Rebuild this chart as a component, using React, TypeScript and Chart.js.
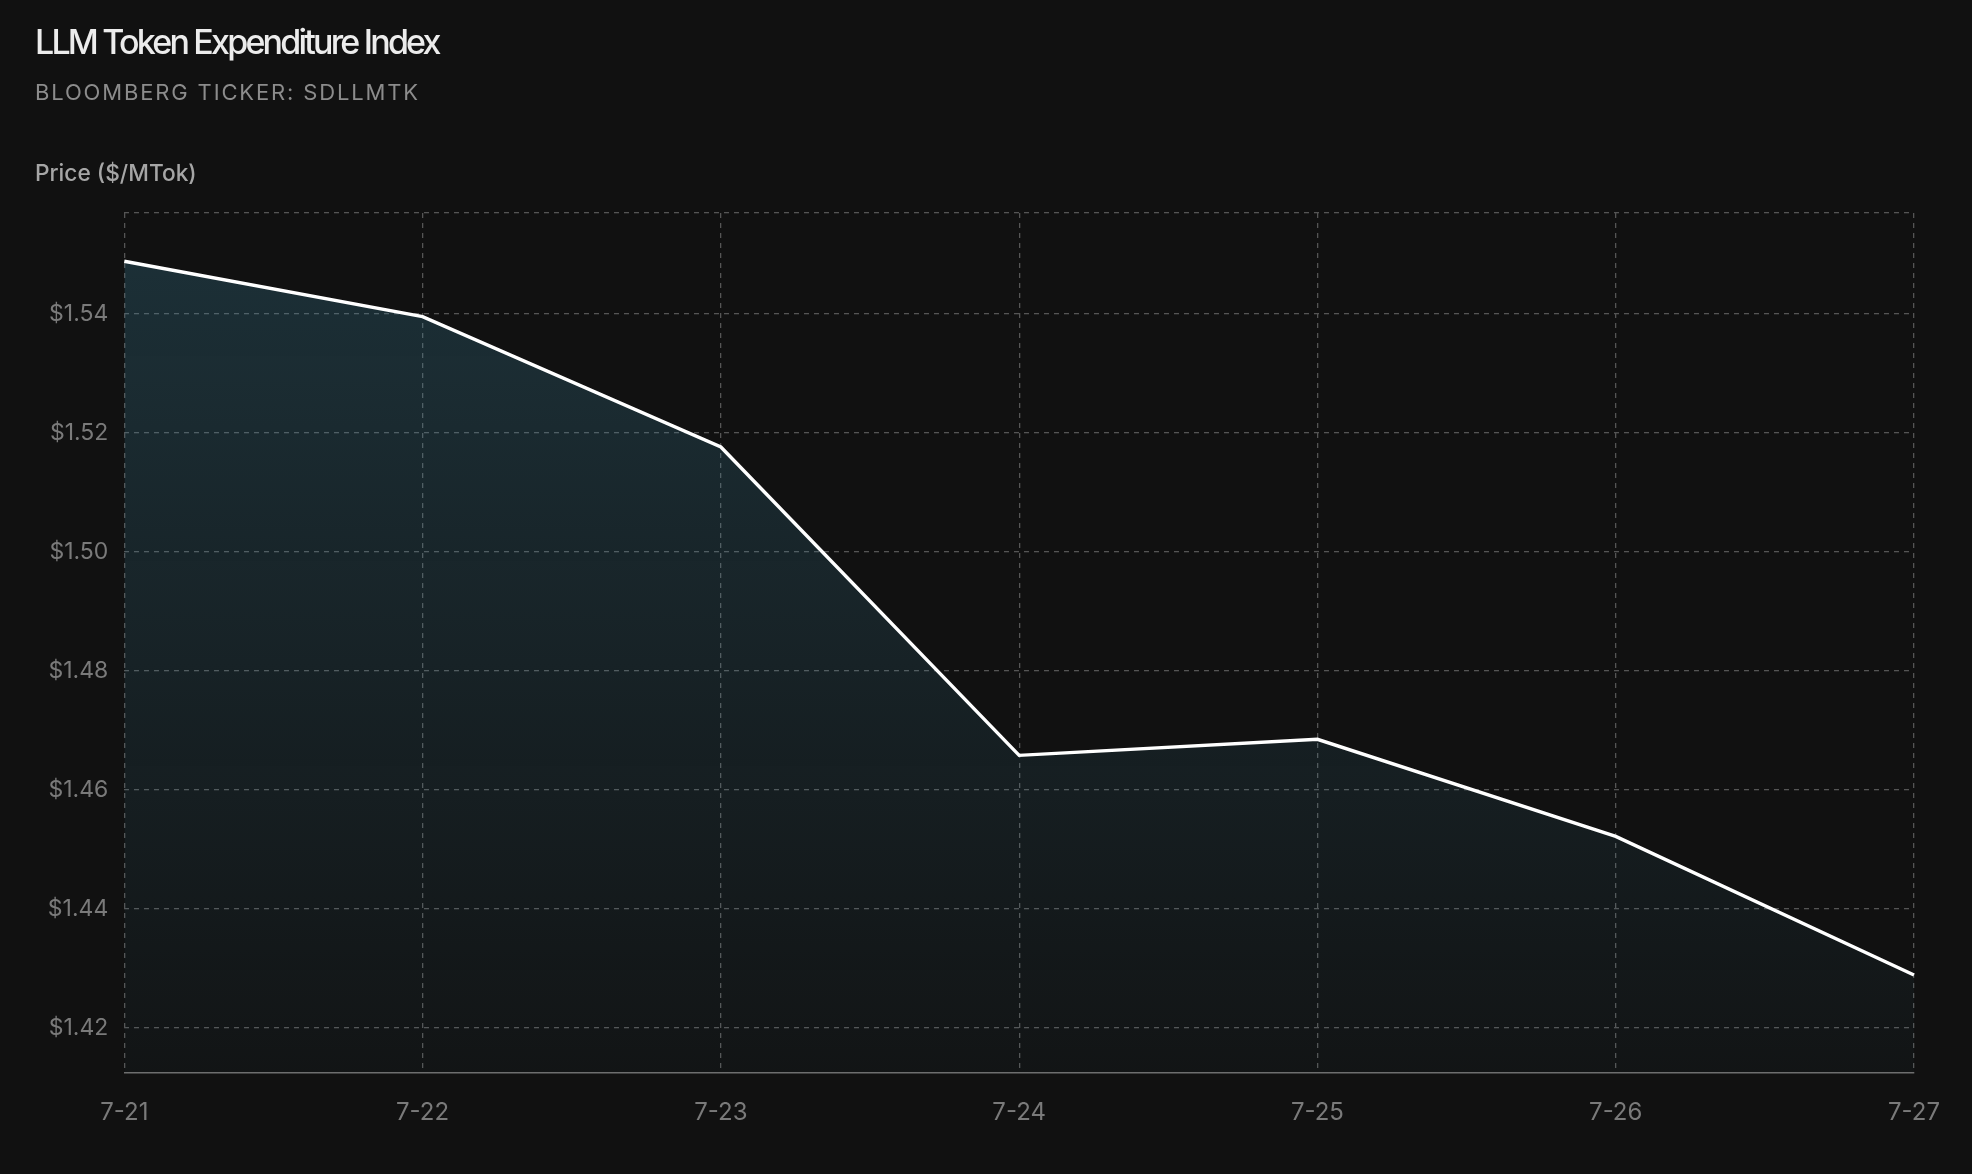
import React, { useEffect, useRef } from "react";
import { Chart, registerables } from "chart.js";

Chart.register(...registerables);

const TITLE = "LLM Token Expenditure Index";
const SUBTITLE = "BLOOMBERG TICKER: SDLLMTK";
const AXIS_LABEL = "Price ($/MTok)";

const dates = ["7-21", "7-22", "7-23", "7-24", "7-25", "7-26", "7-27"];
const prices = [1.5488, 1.5395, 1.5176, 1.4658, 1.4685, 1.4522, 1.4289];
const yTicks = [1.42, 1.44, 1.46, 1.48, 1.5, 1.52, 1.54];
const yMin = 1.4125;
const yMax = 1.5569;

const FONT = "Inter, 'Noto Sans', sans-serif";

export default function App() {
  const canvasRef = useRef<HTMLCanvasElement | null>(null);

  useEffect(() => {
    const canvas = canvasRef.current;
    if (!canvas) return;
    const chart = new Chart(canvas, {
      type: "line",
      data: {
        labels: dates,
        datasets: [
          {
            data: prices,
            borderColor: "#ffffff",
            borderWidth: 3.4,
            pointRadius: 0,
            tension: 0,
            fill: "start",
            backgroundColor: (ctx: any) => {
              const c = ctx.chart;
              const area = c.chartArea;
              if (!area) return "rgba(60,134,161,0.2)";
              const g = c.ctx.createLinearGradient(0, area.top, 0, area.bottom);
              g.addColorStop(0, "rgba(60,134,161,0.28)");
              g.addColorStop(1, "rgba(60,134,161,0.03)");
              return g;
            },
          },
        ],
      },
      options: {
        animation: false,
        responsive: true,
        maintainAspectRatio: false,
        layout: { padding: { top: 213, right: 58, left: 0, bottom: 0 } },
        plugins: {
          legend: { display: false },
          tooltip: { enabled: false },
          title: { display: false },
        },
        scales: {
          x: {
            type: "category",
            offset: false,
            grid: {
              color: "#555555",
              lineWidth: 1.3,
              drawTicks: false,
            },
            border: { display: true, color: "#6e6e6e", width: 1.6, dash: [5, 5] },
            ticks: {
              color: "#7a7a7a",
              padding: 26,
              font: { family: FONT, size: 24 },
              maxRotation: 0,
            },
            afterFit: (scale: any) => {
              scale.height = 101.3;
            },
          },
          y: {
            type: "linear",
            min: yMin,
            max: yMax,
            afterBuildTicks: (scale: any) => {
              scale.ticks = [...yTicks, yMax].map((v) => ({ value: v }));
            },
            grid: {
              color: "#555555",
              lineWidth: 1.3,
              drawTicks: false,
            },
            border: { display: false, dash: [5, 5] },
            ticks: {
              color: "#7a7a7a",
              padding: 16,
              font: { family: FONT, size: 23 },
              callback: (value: any) => {
                const v = Number(value);
                const hit = yTicks.some((t) => Math.abs(t - v) < 1e-6);
                return hit ? "$" + v.toFixed(2) : "";
              },
            },
            afterFit: (scale: any) => {
              scale.width = 124.3;
            },
          },
        },
      },
    });
    return () => chart.destroy();
  }, []);

  return (
    <div
      style={{
        position: "fixed",
        left: 0,
        top: 0,
        width: 1972,
        height: 1174,
        background: "#111111",
        overflow: "hidden",
        fontFamily: FONT,
      }}
    >
      <div style={{ position: "absolute", left: 0, top: 0, width: 1972, height: 1174 }}>
        <canvas ref={canvasRef} />
      </div>
      <div
        style={{
          position: "absolute",
          left: 35,
          top: 24.6,
          fontSize: 34,
          lineHeight: 1,
          fontWeight: 500,
          letterSpacing: "-2.8px",
          color: "#ececec",
          whiteSpace: "nowrap",
        }}
      >
        {TITLE}
      </div>
      <div
        style={{
          position: "absolute",
          left: 35,
          top: 81,
          fontSize: 22,
          lineHeight: 1,
          fontWeight: 400,
          letterSpacing: "1.85px",
          color: "#8c8c8c",
          whiteSpace: "nowrap",
        }}
      >
        {SUBTITLE}
      </div>
      <div
        style={{
          position: "absolute",
          left: 35,
          top: 162,
          fontSize: 22.7,
          lineHeight: 1,
          fontWeight: 500,
          color: "#a6a6a6",
          whiteSpace: "nowrap",
        }}
      >
        {AXIS_LABEL}
      </div>
    </div>
  );
}
